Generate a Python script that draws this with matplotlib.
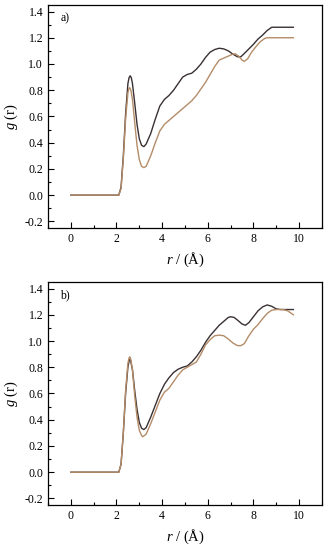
import matplotlib
matplotlib.use("Agg")
import matplotlib.pyplot as plt
from matplotlib.ticker import MultipleLocator

plt.rcParams['font.family'] = ['Liberation Serif', 'DejaVu Serif']
plt.rcParams['axes.unicode_minus'] = False
plt.rcParams['mathtext.fontset'] = 'custom'
plt.rcParams['mathtext.it'] = 'Liberation Serif:italic'
plt.rcParams['mathtext.rm'] = 'Liberation Serif'

# Panel a)
a_black_r = [0, 2.1, 2.2, 2.3, 2.4, 2.5, 2.55, 2.6, 2.65, 2.7, 2.8, 2.9, 3.0, 3.1, 3.2, 3.3, 3.5, 3.7,
             3.9, 4.1, 4.3, 4.5, 4.7, 4.9, 5.1, 5.3, 5.5, 5.7, 5.9, 6.1, 6.3, 6.5, 6.7, 6.9, 7.1, 7.3,
             7.45, 7.6, 7.8, 8.0, 8.2, 8.4, 8.6, 8.8, 9.0, 9.75]
a_black_g = [0, 0, 0.06, 0.30, 0.62, 0.85, 0.895, 0.91, 0.895, 0.85, 0.70, 0.54, 0.43, 0.38, 0.37,
             0.39, 0.47, 0.58, 0.68, 0.73, 0.76, 0.80, 0.85, 0.90, 0.92, 0.93, 0.96, 1.00, 1.05, 1.09,
             1.11, 1.12, 1.115, 1.10, 1.075, 1.055, 1.055, 1.08, 1.115, 1.15, 1.19, 1.22, 1.255, 1.28,
             1.28, 1.28]
a_brown_r = [0, 2.1, 2.2, 2.3, 2.4, 2.5, 2.54, 2.58, 2.63, 2.7, 2.8, 2.9, 3.0, 3.1, 3.2, 3.3, 3.5,
             3.7, 3.9, 4.1, 4.3, 4.5, 4.7, 4.9, 5.1, 5.3, 5.5, 5.7, 5.9, 6.1, 6.3, 6.5, 6.7, 6.9, 7.1,
             7.2, 7.35, 7.5, 7.6, 7.75, 7.9, 8.1, 8.3, 8.5, 8.6, 9.75]
a_brown_g = [0, 0, 0.05, 0.28, 0.58, 0.78, 0.81, 0.82, 0.80, 0.73, 0.55, 0.38, 0.27, 0.22, 0.21,
             0.22, 0.30, 0.40, 0.49, 0.54, 0.57, 0.60, 0.63, 0.66, 0.69, 0.72, 0.76, 0.81, 0.86, 0.92,
             0.98, 1.03, 1.045, 1.06, 1.075, 1.078, 1.06, 1.03, 1.02, 1.04, 1.085, 1.13, 1.17, 1.195,
             1.20, 1.20]

# Panel b)
b_black_r = [0, 2.1, 2.2, 2.3, 2.4, 2.5, 2.55, 2.58, 2.62, 2.7, 2.8, 2.9, 3.0, 3.1, 3.2, 3.3, 3.5,
             3.7, 3.9, 4.1, 4.3, 4.5, 4.7, 4.9, 5.1, 5.3, 5.5, 5.7, 5.9, 6.1, 6.3, 6.5, 6.7, 6.9, 7.0,
             7.15, 7.3, 7.5, 7.65, 7.8, 8.0, 8.2, 8.4, 8.6, 8.8, 9.0, 9.2, 9.75]
b_black_g = [0, 0, 0.06, 0.30, 0.60, 0.80, 0.845, 0.86, 0.85, 0.78, 0.62, 0.48, 0.38, 0.335, 0.325,
             0.34, 0.42, 0.51, 0.60, 0.67, 0.72, 0.76, 0.785, 0.80, 0.81, 0.84, 0.88, 0.93, 0.99,
             1.04, 1.08, 1.12, 1.15, 1.18, 1.185, 1.18, 1.16, 1.13, 1.12, 1.14, 1.185, 1.23, 1.26,
             1.275, 1.265, 1.245, 1.24, 1.24]
b_brown_r = [0, 2.1, 2.2, 2.3, 2.4, 2.5, 2.55, 2.58, 2.62, 2.7, 2.8, 2.9, 3.0, 3.1, 3.15, 3.3, 3.5,
             3.7, 3.9, 4.1, 4.3, 4.5, 4.7, 4.9, 5.1, 5.3, 5.5, 5.7, 5.9, 6.1, 6.3, 6.5, 6.7, 6.9, 7.1,
             7.3, 7.45, 7.6, 7.8, 8.0, 8.2, 8.4, 8.6, 8.8, 9.0, 9.3, 9.5, 9.75]
b_brown_g = [0, 0, 0.06, 0.30, 0.62, 0.83, 0.87, 0.88, 0.865, 0.78, 0.58, 0.42, 0.32, 0.28, 0.27,
             0.29, 0.37, 0.46, 0.55, 0.61, 0.64, 0.69, 0.74, 0.78, 0.80, 0.82, 0.84, 0.90, 0.97, 1.01,
             1.04, 1.045, 1.04, 1.015, 0.985, 0.965, 0.965, 0.98, 1.04, 1.09, 1.125, 1.17, 1.21,
             1.235, 1.24, 1.24, 1.23, 1.20]

panel_labels = ["a)", "b)"]
x_ticks = [0, 2, 4, 6, 8, 10]
y_ticks = [-0.2, 0.0, 0.2, 0.4, 0.6, 0.8, 1.0, 1.2, 1.4]

BLACK = "#3a3032"
BROWN = "#b48c68"

fig = plt.figure(figsize=(3.32, 5.5), dpi=100)
axes = [fig.add_axes([0.1446, 0.5855, 0.825, 0.4055]),
        fig.add_axes([0.1446, 0.0818, 0.825, 0.4055])]
datasets = [(a_black_r, a_black_g, a_brown_r, a_brown_g),
            (b_black_r, b_black_g, b_brown_r, b_brown_g)]

for ax, (br, bg, rr, rg), lab in zip(axes, datasets, panel_labels):
    ax.plot(br, bg, color=BLACK, lw=1.0)
    ax.plot(rr, rg, color=BROWN, lw=1.0)
    ax.set_xlim(-1, 11)
    ax.set_ylim(-0.25, 1.45)
    ax.set_xticks(x_ticks)
    ax.set_yticks(y_ticks)
    ax.set_yticklabels([f"{v:.1f}" for v in y_ticks])
    ax.xaxis.set_minor_locator(MultipleLocator(1))
    ax.yaxis.set_minor_locator(MultipleLocator(0.1))
    ax.tick_params(which='both', direction='in', top=False, right=False, labelsize=8.5, width=0.8)
    ax.tick_params(which='major', length=4)
    ax.tick_params(which='minor', length=2)
    for s in ax.spines.values():
        s.set_linewidth(0.9)
    ax.set_xlabel(r"$r$ / (Å)", fontsize=10.5, labelpad=4)
    ax.set_ylabel(r"$g$ (r)", fontsize=10.5, labelpad=3)
    ax.text(0.045, 0.965, lab, transform=ax.transAxes, fontsize=8.5, va='top', ha='left')

fig.savefig("out.png", dpi=100)
